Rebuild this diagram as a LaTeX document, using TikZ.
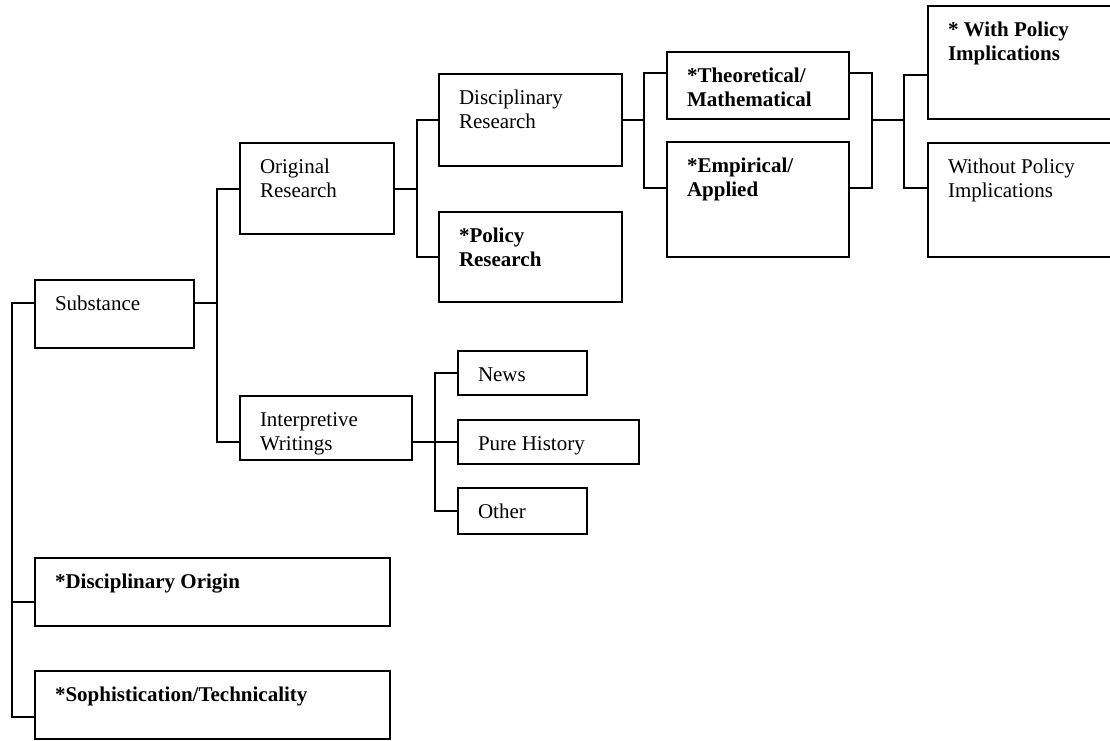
\documentclass[tikz,border=0pt]{standalone}
\usepackage{fontspec}
\setmainfont{Liberation Serif}
\newcommand{\bxtext}[3]{\parbox[t][#2pt][t]{#1pt}{\raggedright\leftskip=20pt\relax\rule{0pt}{30pt}#3}}
\begin{document}
\begin{tikzpicture}[x=1pt,y=-1pt,
  bx/.style={draw, rectangle, line width=1.6pt, inner sep=0pt, outer sep=0pt, anchor=north west,
    font=\fontsize{21}{24}\selectfont},
  ln/.style={line width=1.6pt}]
\useasboundingbox (0,0) rectangle (1110,740);
\clip (0,0) rectangle (1110,740);
% boxes
\node[bx] (subst) at (35,280) {\bxtext{159}{68}{Substance}};
\node[bx] (orig) at (240,143) {\bxtext{154}{91}{Original\\Research}};
\node[bx] (interp) at (240,396) {\bxtext{172}{64}{Interpretive\\Writings}};
\node[bx] (disc) at (439,74) {\bxtext{183}{92}{Disciplinary\\Research}};
\node[bx] (policy) at (439,212) {\bxtext{183}{90}{\textbf{*Policy\\Research}}};
\node[bx] (theo) at (667,52) {\bxtext{182}{67}{\textbf{*Theoretical/\\Mathematical}}};
\node[bx] (emp) at (667,142) {\bxtext{182}{115}{\textbf{*Empirical/\\Applied}}};
\node[bx] (withp) at (928,6) {\bxtext{202}{113}{\textbf{* With Policy\\Implications}}};
\node[bx] (without) at (928,143) {\bxtext{202}{114}{Without Policy\\Implications}};
\node[bx] (news) at (458,351) {\bxtext{129}{44}{News}};
\node[bx] (pure) at (458,420) {\bxtext{181}{44}{Pure History}};
\node[bx] (other) at (458,488) {\bxtext{129}{46}{Other}};
\node[bx] (dorig) at (35,558) {\bxtext{355}{68}{\textbf{*Disciplinary Origin}}};
\node[bx] (soph) at (35,671) {\bxtext{355}{68}{\textbf{*Sophistication/Technicality}}};
% junctions
\coordinate (j0) at (12,303);
\coordinate (j1) at (217,303);
\coordinate (j2) at (417,189);
\coordinate (j3) at (435,442);
\coordinate (j4) at (644,120);
\coordinate (j5) at (872,120);
\coordinate (j6) at (904,120);
% root trunk
\draw[ln] (subst.west |- j0) -- (j0) |- (soph.west |- 0,717);
\draw[ln] (j0 |- 0,602) -- (dorig.west |- 0,602);
% substance -> original / interpretive
\draw[ln] (subst.east |- j1) -- (j1);
\draw[ln] (orig.west |- j2) -| (j1) |- (interp.west |- j3);
% original -> disciplinary / policy
\draw[ln] (orig.east |- j2) -- (j2);
\draw[ln] (disc.west |- j4) -| (j2) |- (policy.west);
% interpretive -> news / pure / other
\draw[ln] (interp.east |- j3) -- (j3);
\draw[ln] (news.west) -| (j3) |- (other.west);
\draw[ln] (j3) -- (pure.west |- j3);
% disciplinary -> theoretical / empirical
\draw[ln] (disc.east |- j4) -- (j4);
\draw[ln] (theo.west |- 0,73) -| (j4) |- (emp.west |- 0,188);
% theoretical / empirical -> with / without
\draw[ln] (theo.east |- 0,73) -| (j5) |- (emp.east |- 0,188);
\draw[ln] (j5) -- (j6);
\draw[ln] (withp.west |- 0,75) -| (j6) |- (without.west |- 0,188);
\end{tikzpicture}
\end{document}
